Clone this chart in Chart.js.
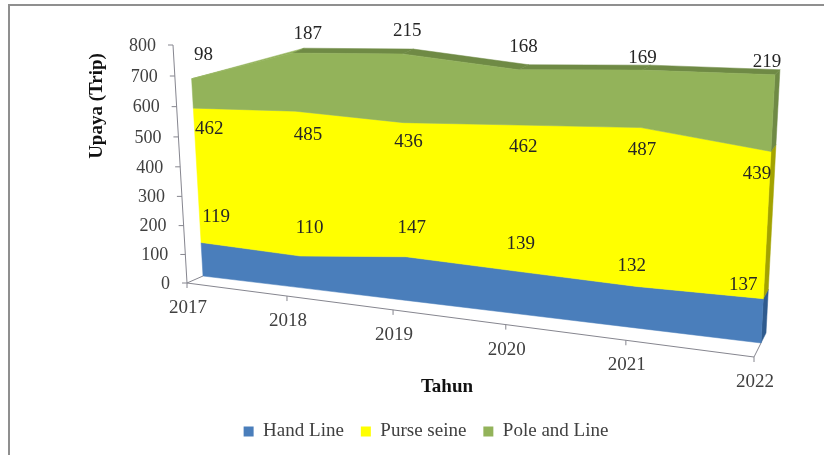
<!DOCTYPE html>
<html>
<head>
<meta charset="utf-8">
<title>Upaya (Trip)</title>
<script src="https://cdn.jsdelivr.net/npm/chart.js@4"></script>
<style>
  html, body { margin: 0; padding: 0; background: #fff; }
  #wrap { width: 824px; height: 455px; }
</style>
</head>
<body>
<div id="wrap"><canvas id="grafik" width="824" height="455"></canvas></div>
<script>
const tahun = ['2017', '2018', '2019', '2020', '2021', '2022'];
const handLine = [119, 110, 147, 139, 132, 137];
const purseSeine = [462, 485, 436, 462, 487, 439];
const poleLine = [98, 187, 215, 168, 169, 219];

const warna = ['#4a7ebb', '#ffff00', '#93b35a'];
const warnaSisi = ['#2f5b8e', '#a3a300', '#6f8a45'];
const serif = '"Liberation Serif", "Times New Roman", serif';

// corners of the 3D box as [x, y]: 2017/0, 2022/0, 2022/800, 2017/800
const bidangAxis = [[187, 283], [754, 357], [770, 81], [173, 45]];
const bidangDepan = [[203, 276], [761, 343], [775, 73], [189.5, 42]];
const bidangBelakang = [[211, 271], [766, 333], [780, 68], [200, 37]];

// per label nudges from the stack top of its series, in px
const geserLabel = [
  [[15, -25], [9, -28], [6, -29], [3, -27], [-5, -20], [-20, -14]],
  [[16, 21], [13, 24], [5, 19], [5, 22], [1, 22], [-14, 23]],
  [[12, -24], [15, -19], [5, -23], [5, -23], [0, -12], [-8, -13]]
];

// unit square to quad mapping
function buatProyeksi(q) {
  const [[x0, y0], [x1, y1], [x2, y2], [x3, y3]] = q;
  const dx1 = x1 - x2, dx2 = x3 - x2, sx = x0 - x1 + x2 - x3;
  const dy1 = y1 - y2, dy2 = y3 - y2, sy = y0 - y1 + y2 - y3;
  const det = dx1 * dy2 - dx2 * dy1;
  const g = (sx * dy2 - dx2 * sy) / det;
  const h = (dx1 * sy - sx * dy1) / det;
  const a = x1 - x0 + g * x1, b = x3 - x0 + h * x3;
  const d = y1 - y0 + g * y1, e = y3 - y0 + h * y3;
  return (u, v) => {
    const w = g * u + h * v + 1;
    return [(a * u + b * v + x0) / w, (d * u + e * v + y0) / w];
  };
}

const keAxis = buatProyeksi(bidangAxis);
const keDepan = buatProyeksi(bidangDepan);
const keBelakang = buatProyeksi(bidangBelakang);

function uv(chart, px, py) {
  const area = chart.chartArea;
  return [(px - area.left) / area.width, (area.bottom - py) / area.height];
}

function poligon(ctx, titik, warnaIsi) {
  ctx.beginPath();
  titik.forEach((p, i) => (i ? ctx.lineTo(p[0], p[1]) : ctx.moveTo(p[0], p[1])));
  ctx.closePath();
  ctx.fillStyle = warnaIsi;
  ctx.strokeStyle = warnaIsi;
  ctx.lineWidth = 0.5;
  ctx.fill();
  ctx.stroke();
}

function teks(ctx, isi, x, y, warnaTeks, font, align) {
  ctx.fillStyle = warnaTeks;
  ctx.font = font;
  ctx.textAlign = align || 'center';
  ctx.textBaseline = 'middle';
  ctx.fillText(isi, x, y);
}

const kotak3d = {
  id: 'kotak3d',
  beforeDraw(chart) {
    const ctx = chart.ctx;
    ctx.save();
    ctx.fillStyle = '#fff';
    ctx.fillRect(0, 0, chart.width, chart.height);
    // only the top and left edges of the frame are in view
    ctx.strokeStyle = '#8f8f8f';
    ctx.lineWidth = 2;
    ctx.beginPath();
    ctx.moveTo(chart.width, 5);
    ctx.lineTo(9, 5);
    ctx.lineTo(9, chart.height);
    ctx.stroke();
    ctx.restore();
  },
  afterDatasetsDraw(chart) {
    const ctx = chart.ctx;
    const skalaX = chart.scales.x, skalaY = chart.scales.y;
    const dasar = skalaY.getPixelForValue(0);
    ctx.save();

    // axis lines and tick marks
    ctx.strokeStyle = '#86868f';
    ctx.lineWidth = 1;
    ctx.beginPath();
    const a0 = keAxis(0, 0), a1 = keAxis(1, 0), aTop = keAxis(0, 1);
    ctx.moveTo(aTop[0], aTop[1]);
    ctx.lineTo(a0[0], a0[1]);
    ctx.lineTo(a1[0], a1[1]);
    ctx.moveTo(a0[0], a0[1]);
    ctx.lineTo(bidangDepan[0][0], bidangDepan[0][1]);
    ctx.moveTo(a1[0], a1[1]);
    ctx.lineTo(bidangDepan[1][0], bidangDepan[1][1]);
    skalaY.ticks.forEach(t => {
      const p = keAxis(0, uv(chart, skalaX.left, skalaY.getPixelForValue(t.value))[1]);
      ctx.moveTo(p[0], p[1]);
      ctx.lineTo(p[0] - 5, p[1]);
    });
    tahun.forEach((th, i) => {
      const p = keAxis(uv(chart, skalaX.getPixelForValue(i), dasar)[0], 0);
      ctx.moveTo(p[0], p[1]);
      ctx.lineTo(p[0], p[1] + 5);
    });
    ctx.stroke();

    // tick labels
    skalaY.ticks.forEach(t => {
      const p = keAxis(0, uv(chart, skalaX.left, skalaY.getPixelForValue(t.value))[1]);
      teks(ctx, String(t.value), p[0] - 17, p[1] + 1, '#404040', '18px ' + serif, 'right');
    });
    tahun.forEach((th, i) => {
      const p = keAxis(uv(chart, skalaX.getPixelForValue(i), dasar)[0], 0);
      teks(ctx, th, p[0] + 1, p[1] + 25, '#404040', '19px ' + serif);
    });

    // stacked faces, bottom series first
    const metas = chart.data.datasets.map((d, i) => chart.getDatasetMeta(i));
    const tepi = meta => meta.data.map(el => uv(chart, el.x, el.y));
    const lantai = tahun.map((th, i) => uv(chart, skalaX.getPixelForValue(i), dasar));
    const sisiAtas = tepi(metas[2]);

    // right hand side of each band
    metas.forEach((meta, s) => {
      const atas = tepi(meta)[tahun.length - 1];
      const bawah = s ? tepi(metas[s - 1])[tahun.length - 1] : lantai[tahun.length - 1];
      poligon(ctx, [keDepan(...bawah), keBelakang(...bawah), keBelakang(...atas), keDepan(...atas)], warnaSisi[s]);
    });

    // top surface of the highest band, the first rising stretch shows as a sliver
    for (let i = 0; i < tahun.length - 1; i++) {
      const strip = [keDepan(...sisiAtas[i]), keDepan(...sisiAtas[i + 1]), keBelakang(...sisiAtas[i + 1])];
      if (i > 0) strip.push(keBelakang(...sisiAtas[i]));
      poligon(ctx, strip, i ? warnaSisi[2] : warna[2]);
    }

    // front faces
    metas.forEach((meta, s) => {
      const atas = tepi(meta);
      const bawah = s ? tepi(metas[s - 1]) : lantai;
      const titik = atas.map(p => keDepan(...p)).concat(bawah.map(p => keDepan(...p)).reverse());
      poligon(ctx, titik, warna[s]);
    });

    // value labels sit near the top edge of their band
    metas.forEach((meta, s) => {
      const nilai = chart.data.datasets[s].data;
      tepi(meta).forEach((p, i) => {
        const q = keDepan(...p);
        const g = geserLabel[s][i];
        teks(ctx, String(nilai[i]), q[0] + g[0], q[1] + g[1], '#262626', '19px ' + serif);
      });
    });

    // axis titles
    teks(ctx, 'Tahun', 447, 387, '#111', 'bold 19px ' + serif);
    ctx.translate(97, 106);
    ctx.rotate(-Math.PI / 2);
    teks(ctx, 'Upaya (Trip)', 0, 0, '#111', 'bold 19px ' + serif);
    ctx.restore();
  }
};

new Chart(document.getElementById('grafik'), {
  type: 'line',
  data: {
    labels: tahun,
    datasets: [
      { label: 'Hand Line', data: handLine, backgroundColor: warna[0] },
      { label: 'Purse seine', data: purseSeine, backgroundColor: warna[1] },
      { label: 'Pole and Line', data: poleLine, backgroundColor: warna[2] }
    ]
  },
  options: {
    responsive: false,
    animation: false,
    layout: { padding: { left: 28, bottom: 4, top: 20, right: 0 } },
    datasets: { line: { showLine: false, pointRadius: 0, borderWidth: 0, fill: false } },
    scales: {
      x: { display: false, offset: false },
      y: { display: false, stacked: true, min: 0, max: 800, ticks: { stepSize: 100 } }
    },
    plugins: {
      tooltip: { enabled: false },
      legend: {
        position: 'bottom',
        labels: {
          boxWidth: 10,
          boxHeight: 10,
          padding: 17,
          color: '#404040',
          font: { family: serif, size: 19 }
        }
      }
    }
  },
  plugins: [kotak3d]
});
</script>
</body>
</html>
